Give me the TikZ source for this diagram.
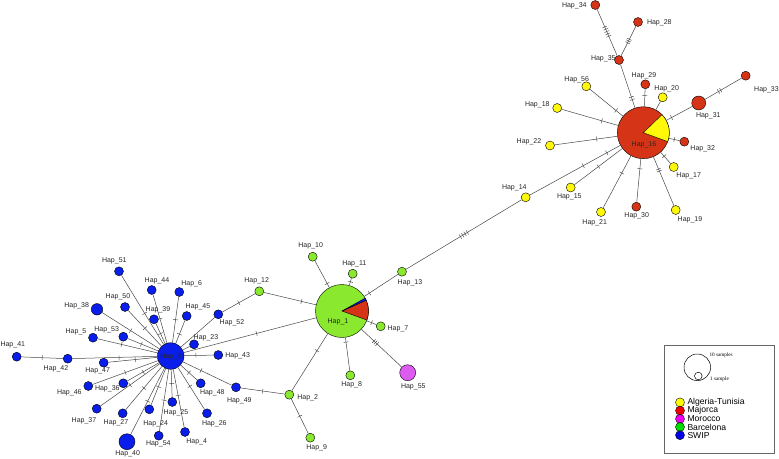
\documentclass[tikz,border=0pt]{standalone}
\usepackage{fontspec}
\setmainfont{Liberation Sans}
\newfontfamily\legserif{Liberation Serif}
\definecolor{cY}{RGB}{255,248,10}
\definecolor{cR}{RGB}{214,52,22}
\definecolor{cG}{RGB}{138,232,46}
\definecolor{cB}{RGB}{10,30,235}
\definecolor{cM}{RGB}{220,92,240}
\definecolor{lY}{RGB}{255,255,0}
\definecolor{lR}{RGB}{240,0,0}
\definecolor{lM}{RGB}{240,0,240}
\definecolor{lG}{RGB}{0,220,0}
\definecolor{lB}{RGB}{0,0,235}
\begin{document}
\begin{tikzpicture}[x=1pt,y=-1pt,
  hap/.style={circle,draw=black,line width=0.4pt,inner sep=0pt,minimum size=9pt},
  lbl/.style={font=\fontsize{7}{8}\selectfont,text=black!85,inner sep=0pt},
  edge/.style={draw=black!72,line width=0.5pt},
  tk/.style={sloped,draw=black!72,line width=0.45pt,minimum width=0pt,minimum height=5pt,inner sep=0pt,outer sep=0pt},
  legtxt/.style={font=\fontsize{8.6}{9}\selectfont,anchor=west,inner sep=0pt},
  legsm/.style={font=\legserif\fontsize{5.2}{6}\selectfont,anchor=west,inner sep=0pt}
]
\useasboundingbox (0,0) rectangle (779,458);

% ---- SWIP (blue) ----
\node[hap,fill=cB,minimum size=26.6pt] (h3) at (170.7,356) {};
\node[hap,fill=cB] (h41) at (16.7,356.7) {};
\node[hap,fill=cB] (h42) at (67.7,358.7) {};
\node[hap,fill=cB,minimum size=11.5pt] (h38) at (97,309.3) {};
\node[hap,fill=cB] (h50) at (125,307) {};
\node[hap,fill=cB] (h44) at (151.7,290) {};
\node[hap,fill=cB] (h6) at (179.3,292) {};
\node[hap,fill=cB] (h39) at (154,319.3) {};
\node[hap,fill=cB] (h45) at (186.7,316) {};
\node[hap,fill=cB] (h52) at (218.3,314.3) {};
\node[hap,fill=cB] (h53) at (123.3,336.7) {};
\node[hap,fill=cB] (h5) at (93,337.7) {};
\node[hap,fill=cB] (h23) at (194,344.3) {};
\node[hap,fill=cB] (h43) at (218.3,355) {};
\node[hap,fill=cB] (h47) at (103.7,362.7) {};
\node[hap,fill=cB] (h46) at (88.3,386) {};
\node[hap,fill=cB] (h36) at (123.3,383.3) {};
\node[hap,fill=cB] (h48) at (200.7,383.3) {};
\node[hap,fill=cB] (h49) at (236,387.3) {};
\node[hap,fill=cB] (h37) at (96.7,408.7) {};
\node[hap,fill=cB] (h27) at (122.7,413.3) {};
\node[hap,fill=cB] (h24) at (149.3,409.3) {};
\node[hap,fill=cB] (h25) at (172.3,402) {};
\node[hap,fill=cB] (h26) at (207,413.3) {};
\node[hap,fill=cB] (h54) at (158.7,435.7) {};
\node[hap,fill=cB] (h4) at (185,432) {};
\node[hap,fill=cB,minimum size=16pt] (h40) at (127,441.7) {};
\node[hap,fill=cB] (h51) at (119,271.3) {};

% ---- Barcelona (green) / Morocco ----
\node[hap,fill=cG,minimum size=53pt] (h1) at (342,311) {};
\node[hap,fill=cG] (h10) at (312.7,256.7) {};
\node[hap,fill=cG] (h11) at (352.7,273.7) {};
\node[hap,fill=cG] (h12) at (259.3,291.3) {};
\node[hap,fill=cG] (h13) at (402,271.7) {};
\node[hap,fill=cG] (h7) at (380.7,326.3) {};
\node[hap,fill=cG] (h8) at (350.3,375.3) {};
\node[hap,fill=cG] (h2) at (289.3,394.7) {};
\node[hap,fill=cG] (h9) at (310.3,437.7) {};
\node[hap,fill=cM,minimum size=16pt] (h55) at (407.7,372.7) {};

% ---- Algeria-Tunisia (yellow) ----
\node[hap,fill=cY] (h14) at (525.7,197.3) {};
\node[hap,fill=cY] (h15) at (570.7,187.5) {};
\node[hap,fill=cY] (h22) at (550,145.5) {};
\node[hap,fill=cY] (h18) at (557.2,108) {};
\node[hap,fill=cY] (h56) at (586.3,86.3) {};
\node[hap,fill=cY] (h20) at (662.7,97.3) {};
\node[hap,fill=cY] (h17) at (673.7,167) {};
\node[hap,fill=cY] (h19) at (675.7,210) {};
\node[hap,fill=cY] (h21) at (601,212) {};

% ---- Majorca (red) ----
\node[hap,fill=cR,minimum size=52pt] (h16) at (643.3,132.7) {};
\node[hap,fill=cR] (h34) at (595.3,5) {};
\node[hap,fill=cR] (h28) at (638,22) {};
\node[hap,fill=cR] (h35) at (619,60) {};
\node[hap,fill=cR] (h29) at (645.3,84.3) {};
\node[hap,fill=cR] (h33) at (745.7,75.7) {};
\node[hap,fill=cR,minimum size=14pt] (h31) at (698.7,103) {};
\node[hap,fill=cR] (h32) at (684.3,141.7) {};
\node[hap,fill=cR] (h30) at (636.3,206.7) {};

% ---- pie wedges ----
\filldraw[fill=cR,draw=black,line width=0.4pt] (h1.center) -- ++(-20:26.5pt) arc[start angle=-20,end angle=24,radius=26.5pt] -- cycle;
\filldraw[fill=cB,draw=black,line width=0.4pt] (h1.center) -- ++(24:26.5pt) arc[start angle=24,end angle=29,radius=26.5pt] -- cycle;
\filldraw[fill=cY,draw=black,line width=0.4pt] (h16.center) -- ++(-20:26pt) arc[start angle=-20,end angle=44,radius=26pt] -- cycle;

% ---- edges: SWIP star ----
\draw[edge] (h3) -- node[tk,pos=.45]{} (h51);
\draw[edge] (h3) -- node[tk,pos=.5]{} (h44);
\draw[edge] (h3) -- node[tk,pos=.5]{} (h6);
\draw[edge] (h3) -- node[tk,pos=.5]{} (h39);
\draw[edge] (h3) -- node[tk,pos=.4]{} (h45);
\draw[edge] (h3) -- node[tk,pos=.5]{} (h50);
\draw[edge] (h3) -- node[tk,pos=.5]{} (h38);
\draw[edge] (h3) -- node[tk,pos=.55]{} (h53);
\draw[edge] (h3) -- node[tk,pos=.6]{} (h5);
\draw[edge] (h3) -- (h23);
\draw[edge] (h3) -- node[tk,pos=.4]{} (h43);
\draw[edge] (h3) -- node[tk,pos=.45]{} (h47);
\draw[edge] (h3) -- node[tk,pos=.45]{} (h42);
\draw[edge] (h42) -- node[tk,pos=.5]{} (h41);
\draw[edge] (h3) -- node[tk,pos=.5]{} (h46);
\draw[edge] (h3) -- node[tk,pos=.5]{} (h36);
\draw[edge] (h3) -- node[tk,pos=.5]{} (h37);
\draw[edge] (h3) -- node[tk,pos=.5]{} (h27);
\draw[edge] (h3) -- node[tk,pos=.5]{} (h40);
\draw[edge] (h3) -- node[tk,pos=.5]{} (h24);
\draw[edge] (h3) -- node[tk,pos=.5]{} (h54);
\draw[edge] (h3) -- node[tk,pos=.5]{} (h25);
\draw[edge] (h3) -- node[tk,pos=.45]{} (h4);
\draw[edge] (h3) -- node[tk,pos=.45]{} (h26);
\draw[edge] (h3) -- node[tk,pos=.5]{} (h48);
\draw[edge] (h3) -- node[tk,pos=.37]{} (h49);
\draw[edge] (h3) -- (h52);
\draw[edge] (h52) -- node[tk,pos=.5]{} (h12);
\draw[edge] (h12) -- node[tk,pos=.72]{} (h1);
\draw[edge] (h3) -- node[tk,pos=.55]{} (h1);
\draw[edge] (h49) -- node[tk,pos=.5]{} (h2);
\draw[edge] (h2) -- node[tk,pos=.7]{} (h1);
\draw[edge] (h2) -- node[tk,pos=.5]{} (h9);

% ---- edges: Hap_1 ----
\draw[edge] (h10) -- node[tk,pos=.85]{} (h1);
\draw[edge] (h11) -- node[tk,pos=.5]{} (h1);
\draw[edge] (h1) -- node[tk,pos=.15]{} (h13);
\draw[edge] (h1) -- node[tk,pos=.5]{} (h7);
\draw[edge] (h1) -- node[tk,pos=.14]{} (h8);
\draw[edge] (h1) -- node[tk,pos=.31]{} node[tk,pos=.35]{} node[tk,pos=.39]{} (h55);
\draw[edge] (h13) -- node[tk,pos=.47]{} node[tk,pos=.49]{} node[tk,pos=.51]{} node[tk,pos=.53]{} (h14);
\draw[edge] (h14) -- node[tk,pos=.59]{} node[tk,pos=.85]{} (h16);

% ---- edges: Hap_16 ----
\draw[edge] (h16) -- node[tk,pos=.5]{} (h15);
\draw[edge] (h16) -- node[tk,pos=.33]{} (h21);
\draw[edge] (h16) -- node[tk,pos=.23]{} (h30);
\draw[edge] (h16) -- node[tk,pos=.25]{} node[tk,pos=.29]{} (h19);
\draw[edge] (h16) -- node[tk,pos=.35]{} (h17);
\draw[edge] (h16) -- node[tk,pos=.5]{} (h32);
\draw[edge] (h16) -- node[tk,pos=.2]{} (h31);
\draw[edge] (h31) -- node[tk,pos=.37]{} node[tk,pos=.43]{} (h33);
\draw[edge] (h16) -- (h20);
\draw[edge] (h29) -- node[tk,pos=.38]{} (h16);
\draw[edge] (h35) -- node[tk,pos=.75]{} node[tk,pos=.81]{} (h16);
\draw[edge] (h35) -- node[tk,pos=.42]{} node[tk,pos=.47]{} node[tk,pos=.52]{} node[tk,pos=.57]{} node[tk,pos=.62]{} (h34);
\draw[edge] (h35) -- node[tk,pos=.44]{} node[tk,pos=.5]{} node[tk,pos=.56]{} (h28);
\draw[edge] (h56) -- node[tk,pos=.79]{} (h16);
\draw[edge] (h18) -- node[tk,pos=.71]{} (h16);
\draw[edge] (h22) -- node[tk,pos=.67]{} (h16);

% ---- labels ----
\node[lbl] (t3) at (170.7,357) {Hap\_3};
\node[lbl] (t41) at (12.8,345) {Hap\_41};
\node[lbl] (t42) at (56,368.7) {Hap\_42};
\node[lbl] (t38) at (76.7,306) {Hap\_38};
\node[lbl] (t50) at (118,296.7) {Hap\_50};
\node[lbl] (t44) at (157,280.7) {Hap\_44};
\node[lbl] (t6) at (191.7,283.3) {Hap\_6};
\node[lbl] (t39) at (158,309.3) {Hap\_39};
\node[lbl] (t45) at (198,307.3) {Hap\_45};
\node[lbl] (t52) at (232,322.3) {Hap\_52};
\node[lbl] (t53) at (106.7,329.3) {Hap\_53};
\node[lbl] (t5) at (76,332) {Hap\_5};
\node[lbl] (t23) at (206,337.7) {Hap\_23};
\node[lbl] (t43) at (237.7,355.7) {Hap\_43};
\node[lbl] (t47) at (97.7,371.3) {Hap\_47};
\node[lbl] (t46) at (69.3,392.7) {Hap\_46};
\node[lbl] (t36) at (107.3,389) {Hap\_36};
\node[lbl] (t48) at (212.3,392.7) {Hap\_48};
\node[lbl] (t49) at (239.3,400.7) {Hap\_49};
\node[lbl] (t37) at (84,420.7) {Hap\_37};
\node[lbl] (t27) at (116,422.3) {Hap\_27};
\node[lbl] (t24) at (155.7,423.3) {Hap\_24};
\node[lbl] (t25) at (176,412.3) {Hap\_25};
\node[lbl] (t26) at (214.3,423.3) {Hap\_26};
\node[lbl] (t54) at (158.3,444.3) {Hap\_54};
\node[lbl] (t4) at (196.7,442) {Hap\_4};
\node[lbl] (t40) at (127.7,453.3) {Hap\_40};
\node[lbl] (t51) at (114.3,260.7) {Hap\_51};
\node[lbl] (t1) at (338,322.3) {Hap\_1};
\node[lbl] (t10) at (310.7,246) {Hap\_10};
\node[lbl] (t11) at (354.3,264.3) {Hap\_11};
\node[lbl] (t12) at (256.7,281) {Hap\_12};
\node[lbl] (t13) at (410,282.3) {Hap\_13};
\node[lbl] (t7) at (398,328.7) {Hap\_7};
\node[lbl] (t8) at (351.7,384.7) {Hap\_8};
\node[lbl] (t55) at (413.3,386.7) {Hap\_55};
\node[lbl] (t2) at (307.7,397.3) {Hap\_2};
\node[lbl] (t9) at (316.7,447.3) {Hap\_9};
\node[lbl] (t14) at (514.3,187.7) {Hap\_14};
\node[lbl] (t15) at (569.3,196.5) {Hap\_15};
\node[lbl] (t22) at (529,141.7) {Hap\_22};
\node[lbl] (t18) at (537.3,104.7) {Hap\_18};
\node[lbl] (t56) at (576.7,79.3) {Hap\_56};
\node[lbl] (t34) at (574.3,6) {Hap\_34};
\node[lbl] (t28) at (659.3,22.7) {Hap\_28};
\node[lbl] (t35) at (603.3,58.7) {Hap\_35};
\node[lbl] (t29) at (644,75.3) {Hap\_29};
\node[lbl] (t20) at (666.7,88.3) {Hap\_20};
\node[lbl] (t33) at (766.5,89.3) {Hap\_33};
\node[lbl] (t31) at (708.3,115.7) {Hap\_31};
\node[lbl] (t32) at (702.7,148.7) {Hap\_32};
\node[lbl] (t17) at (688.7,175.7) {Hap\_17};
\node[lbl] (t19) at (690,220) {Hap\_19};
\node[lbl] (t30) at (636.7,216) {Hap\_30};
\node[lbl] (t21) at (594.7,222.3) {Hap\_21};
\node[lbl] (t16) at (644,144.3) {Hap\_16};

% ---- legend ----
\node[draw=black!60,line width=0.5pt,minimum width=110pt,minimum height=108pt,inner sep=0pt,anchor=north west] (leg) at (664,345) {};
\node[circle,draw=black,line width=0.5pt,minimum size=26.6pt,inner sep=0pt] (l10) at (697.3,367.3) {};
\node[circle,draw=black,line width=0.5pt,minimum size=7.6pt,inner sep=0pt] (l1) at (698.3,376) {};
\node[legsm] (l10t) at (709.3,355) {10 samples};
\node[legsm] (l1t) at (710,379.3) {1 sample};
\node[hap,fill=lY] (lyc) at (680,402.4) {};
\node[legtxt] (lyt) at (687.3,402.4) {Algeria-Tunisia};
\node[hap,fill=lR] (lrc) at (680,410.6) {};
\node[legtxt] (lrt) at (687.3,410.6) {Majorca};
\node[hap,fill=lM] (lmc) at (680,418.8) {};
\node[legtxt] (lmt) at (687.3,418.8) {Morocco};
\node[hap,fill=lG] (lgc) at (680,427) {};
\node[legtxt] (lgt) at (687.3,427) {Barcelona};
\node[hap,fill=lB] (lbc) at (680,435.2) {};
\node[legtxt] (lbt) at (687.3,435.2) {SWIP};
\end{tikzpicture}
\end{document}
